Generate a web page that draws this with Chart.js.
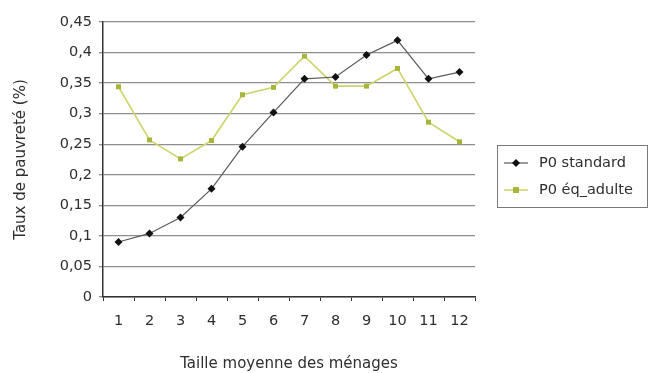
<!DOCTYPE html>
<html>
<head>
<meta charset="utf-8">
<script src="https://cdn.jsdelivr.net/npm/chart.js@4/dist/chart.umd.min.js"></script>
<style>
  html, body { margin: 0; padding: 0; background: #ffffff; }
  #wrap { position: relative; width: 654px; height: 373px; }
</style>
</head>
<body>
<div id="wrap"><canvas id="c" width="654" height="373"></canvas></div>
<script>
// Taille moyenne des ménages
const categories = ['1', '2', '3', '4', '5', '6', '7', '8', '9', '10', '11', '12'];
// Taux de pauvreté, seuil standard
const p0Standard = [0.090, 0.104, 0.130, 0.177, 0.246, 0.302, 0.357, 0.360, 0.396, 0.420, 0.357, 0.368];
// Taux de pauvreté, équivalent adulte
const p0EqAdulte = [0.344, 0.257, 0.226, 0.256, 0.331, 0.343, 0.394, 0.345, 0.345, 0.374, 0.286, 0.254];
// Graduations de l'axe vertical
const yTickLabels = ['0', '0,05', '0,1', '0,15', '0,2', '0,25', '0,3', '0,35', '0,4', '0,45'];

const FONT = '"DejaVu Sans", Verdana, sans-serif';
const TEXT = '#2e2e2e';

// Légende encadrée dessinée à droite du graphique
const boxedLegend = {
  id: 'boxedLegend',
  afterDraw(chart) {
    const ctx = chart.ctx;
    const x0 = 497, y0 = 145, w = 150, h = 62;
    ctx.save();
    ctx.strokeStyle = '#7a7a7a';
    ctx.lineWidth = 1;
    ctx.strokeRect(x0 + 0.5, y0 + 0.5, w, h);
    const rows = [163, 190];
    chart.data.datasets.forEach((ds, i) => {
      const y = rows[i];
      ctx.strokeStyle = ds.borderColor;
      ctx.lineWidth = ds.borderWidth;
      ctx.beginPath();
      ctx.moveTo(504, y);
      ctx.lineTo(528, y);
      ctx.stroke();
      ctx.fillStyle = ds.pointBackgroundColor;
      ctx.beginPath();
      if (ds.pointStyle === 'rectRot') {
        const r = 4;
        ctx.moveTo(516, y - r); ctx.lineTo(516 + r, y); ctx.lineTo(516, y + r); ctx.lineTo(516 - r, y);
        ctx.closePath();
      } else {
        ctx.rect(513, y - 3, 6, 6);
      }
      ctx.fill();
      ctx.fillStyle = TEXT;
      ctx.font = '14.5px ' + FONT;
      ctx.textBaseline = 'middle';
      ctx.textAlign = 'left';
      ctx.fillText(ds.label, 539, y);
    });
    ctx.restore();
  }
};

new Chart(document.getElementById('c'), {
  type: 'line',
  data: {
    labels: categories,
    datasets: [
      {
        label: 'P0 standard',
        data: p0Standard,
        borderColor: '#5a5a5a',
        borderWidth: 1.2,
        pointStyle: 'rectRot',
        pointRadius: 4,
        pointBackgroundColor: '#111111',
        pointBorderColor: '#111111',
        pointBorderWidth: 0,
        tension: 0
      },
      {
        label: 'P0 éq_adulte',
        data: p0EqAdulte,
        borderColor: '#cfd36c',
        borderWidth: 1.6,
        pointStyle: 'rect',
        pointRadius: 3.5,
        pointBackgroundColor: '#a9b53a',
        pointBorderColor: '#a9b53a',
        pointBorderWidth: 0,
        tension: 0
      }
    ]
  },
  options: {
    responsive: false,
    animation: false,
    events: [],
    layout: { padding: { left: 0, right: 179, top: 22, bottom: 0 } },
    plugins: {
      legend: { display: false },
      tooltip: { enabled: false }
    },
    scales: {
      x: {
        offset: true,
        grid: {
          offset: true,
          drawOnChartArea: false,
          color: '#333333',
          tickLength: 4
        },
        border: { color: '#333333', width: 1.5 },
        ticks: {
          color: TEXT,
          padding: 12,
          font: { family: FONT, size: 14.5 },
          maxRotation: 0
        },
        title: {
          display: true,
          text: 'Taille moyenne des ménages',
          color: TEXT,
          font: { family: FONT, size: 15 },
          padding: { top: 0, bottom: 0 }
        },
        afterFit(scale) { scale.height = 76; }
      },
      y: {
        min: 0,
        max: 0.45,
        grid: {
          color: '#8e8e8e',
          lineWidth: 1.3,
          tickLength: 4
        },
        border: { color: '#333333', width: 1.5 },
        ticks: {
          stepSize: 0.05,
          color: TEXT,
          padding: 7,
          font: { family: FONT, size: 14.5 },
          callback: (v, i) => yTickLabels[i]
        },
        title: {
          display: true,
          text: 'Taux de pauvreté (%)',
          color: TEXT,
          font: { family: FONT, size: 15 },
          padding: { top: 12, bottom: 0 }
        },
        afterFit(scale) { scale.width = 103; }
      }
    }
  },
  plugins: [boxedLegend]
});
</script>
</body>
</html>
